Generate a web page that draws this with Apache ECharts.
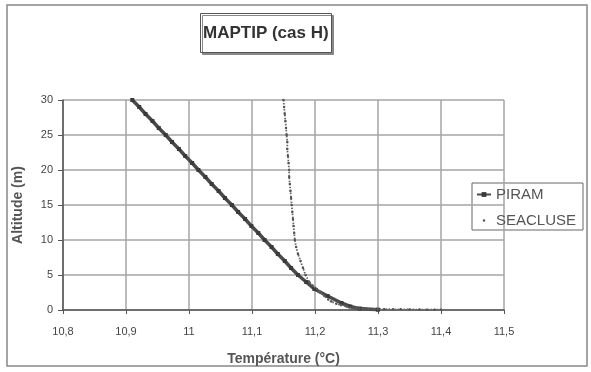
<!DOCTYPE html>
<html>
<head>
    <meta charset="utf-8">
    <title>MAPTIP (cas H)</title>
    <script src="https://cdn.jsdelivr.net/npm/echarts@6/dist/echarts.min.js"></script>
</head>
<body style="margin:0;background:#fff;">
    <div id="main" style="width:591px;height:372px;"></div>
    <script type="text/javascript">
        // profils de température (°C) en fonction de l'altitude (m)
        var piramAlt  = [30, 29, 28, 27, 26, 25, 24, 23, 22, 21, 20, 19, 18, 17, 16, 15, 14, 13, 12, 11, 10, 9, 8, 7, 6, 5, 4, 3, 2, 1, 0.5, 0.2, 0.05];
        var piramTemp = [10.910, 10.921, 10.931, 10.942, 10.952, 10.963, 10.973, 10.984, 10.994, 11.005, 11.015, 11.026, 11.036, 11.047, 11.057, 11.068, 11.078, 11.089, 11.099, 11.110, 11.120, 11.131, 11.141, 11.152, 11.162, 11.173, 11.186, 11.199, 11.220, 11.242, 11.256, 11.271, 11.300];

        var seacAlt  = [30, 29, 28, 27, 26, 25, 24, 23, 22, 21, 20, 19, 18, 17, 16, 15, 14, 13, 12, 11, 10, 9, 8, 7, 6, 5, 4, 3.5, 3, 2.5, 2, 1.5, 1.2, 0.9, 0.7, 0.5, 0.3, 0.2, 0.15, 0.1, 0.1, 0.12, 0.1, 0.1, 0.08, 0.06, 0.05, 0.04, 0.03];
        var seacTemp = [11.150, 11.151, 11.152, 11.153, 11.154, 11.155, 11.156, 11.156, 11.157, 11.158, 11.159, 11.159, 11.160, 11.161, 11.162, 11.163, 11.164, 11.165, 11.166, 11.167, 11.168, 11.170, 11.173, 11.177, 11.181, 11.185, 11.191, 11.196, 11.203, 11.209, 11.215, 11.221, 11.226, 11.234, 11.241, 11.250, 11.260, 11.270, 11.280, 11.290, 11.300, 11.310, 11.324, 11.336, 11.350, 11.366, 11.378, 11.390, 11.400];

        function pairs(t, a) {
            var out = [];
            for (var i = 0; i < t.length; i++) out.push([t[i], a[i]]);
            return out;
        }
        function virgule(v) {
            return String(Math.round(v * 10) / 10).replace('.', ',');
        }

        var font = 'Liberation Sans, Arial, sans-serif';
        var myChart = echarts.init(document.getElementById('main'));
        var option = {
            backgroundColor: '#fff',
            animation: false,
            textStyle: { fontFamily: font, color: '#444' },
            title: {
                text: 'MAPTIP (cas H)',
                left: 200,
                top: 13,
                padding: [12, 3, 11, 3],
                borderColor: '#555',
                borderWidth: 1,
                backgroundColor: '#fff',
                shadowColor: '#888',
                shadowOffsetX: 2,
                shadowOffsetY: 2,
                textStyle: { fontFamily: font, fontSize: 17, fontWeight: 'bold', color: '#333' }
            },
            graphic: [
                { type: 'rect', z: -1, shape: { x: 7, y: 5, width: 580, height: 361 },
                  style: { fill: 'none', stroke: '#888', lineWidth: 1.5 } },
                { type: 'rect', shape: { x: 472, y: 183, width: 111, height: 47 },
                  style: { fill: 'none', stroke: '#666', lineWidth: 1 } }
            ],
            legend: [{
                data: ['PIRAM'],
                left: 476, top: 187,
                padding: 0,
                itemWidth: 14, itemHeight: 6,
                textStyle: { fontFamily: font, fontSize: 15, color: '#555' }
            }, {
                data: ['SEACLUSE'],
                left: 476, top: 213,
                padding: 0,
                itemWidth: 14, itemHeight: 3,
                lineStyle: { opacity: 0 },
                textStyle: { fontFamily: font, fontSize: 15, color: '#555' }
            }],
            grid: { left: 63, right: 87, top: 100, bottom: 62 },
            xAxis: {
                type: 'value',
                min: 10.8, max: 11.5, interval: 0.1,
                name: 'Température (°C)',
                nameLocation: 'middle',
                nameGap: 42,
                nameTextStyle: { fontFamily: font, fontSize: 14, fontWeight: 'bold', color: '#555' },
                axisLine: { show: true, onZero: false, lineStyle: { color: '#555', width: 1.5 } },
                axisTick: { show: true, length: 4, lineStyle: { color: '#555' } },
                axisLabel: { formatter: virgule, fontSize: 11, color: '#444', margin: 16 },
                splitLine: { show: true, lineStyle: { color: '#a5a5a5', width: 1.5 } }
            },
            yAxis: {
                type: 'value',
                min: 0, max: 30, interval: 5,
                name: 'Altitude (m)',
                nameLocation: 'middle',
                nameRotate: 90,
                nameGap: 38,
                nameTextStyle: { fontFamily: font, fontSize: 14, fontWeight: 'bold', color: '#555' },
                axisLine: { show: true, onZero: false, lineStyle: { color: '#555', width: 1.5 } },
                axisTick: { show: true, length: 5, lineStyle: { color: '#555' } },
                axisLabel: { fontSize: 11, color: '#444', margin: 10 },
                splitLine: { show: true, lineStyle: { color: '#a5a5a5', width: 1.5 } }
            },
            series: [{
                name: 'PIRAM',
                type: 'line',
                data: pairs(piramTemp, piramAlt),
                symbol: 'rect',
                symbolSize: 4,
                showAllSymbol: true,
                itemStyle: { color: '#3a3a3a' },
                lineStyle: { color: '#4a4a4a', width: 3.5 },
                z: 3
            }, {
                name: 'SEACLUSE',
                type: 'line',
                data: pairs(seacTemp, seacAlt),
                symbol: 'circle',
                symbolSize: 2.5,
                showAllSymbol: true,
                itemStyle: { color: '#555' },
                lineStyle: { color: '#666', width: 1.8, type: [1.5, 1.5] },
                z: 4
            }]
        };
        myChart.setOption(option);
    </script>
</body>
</html>
